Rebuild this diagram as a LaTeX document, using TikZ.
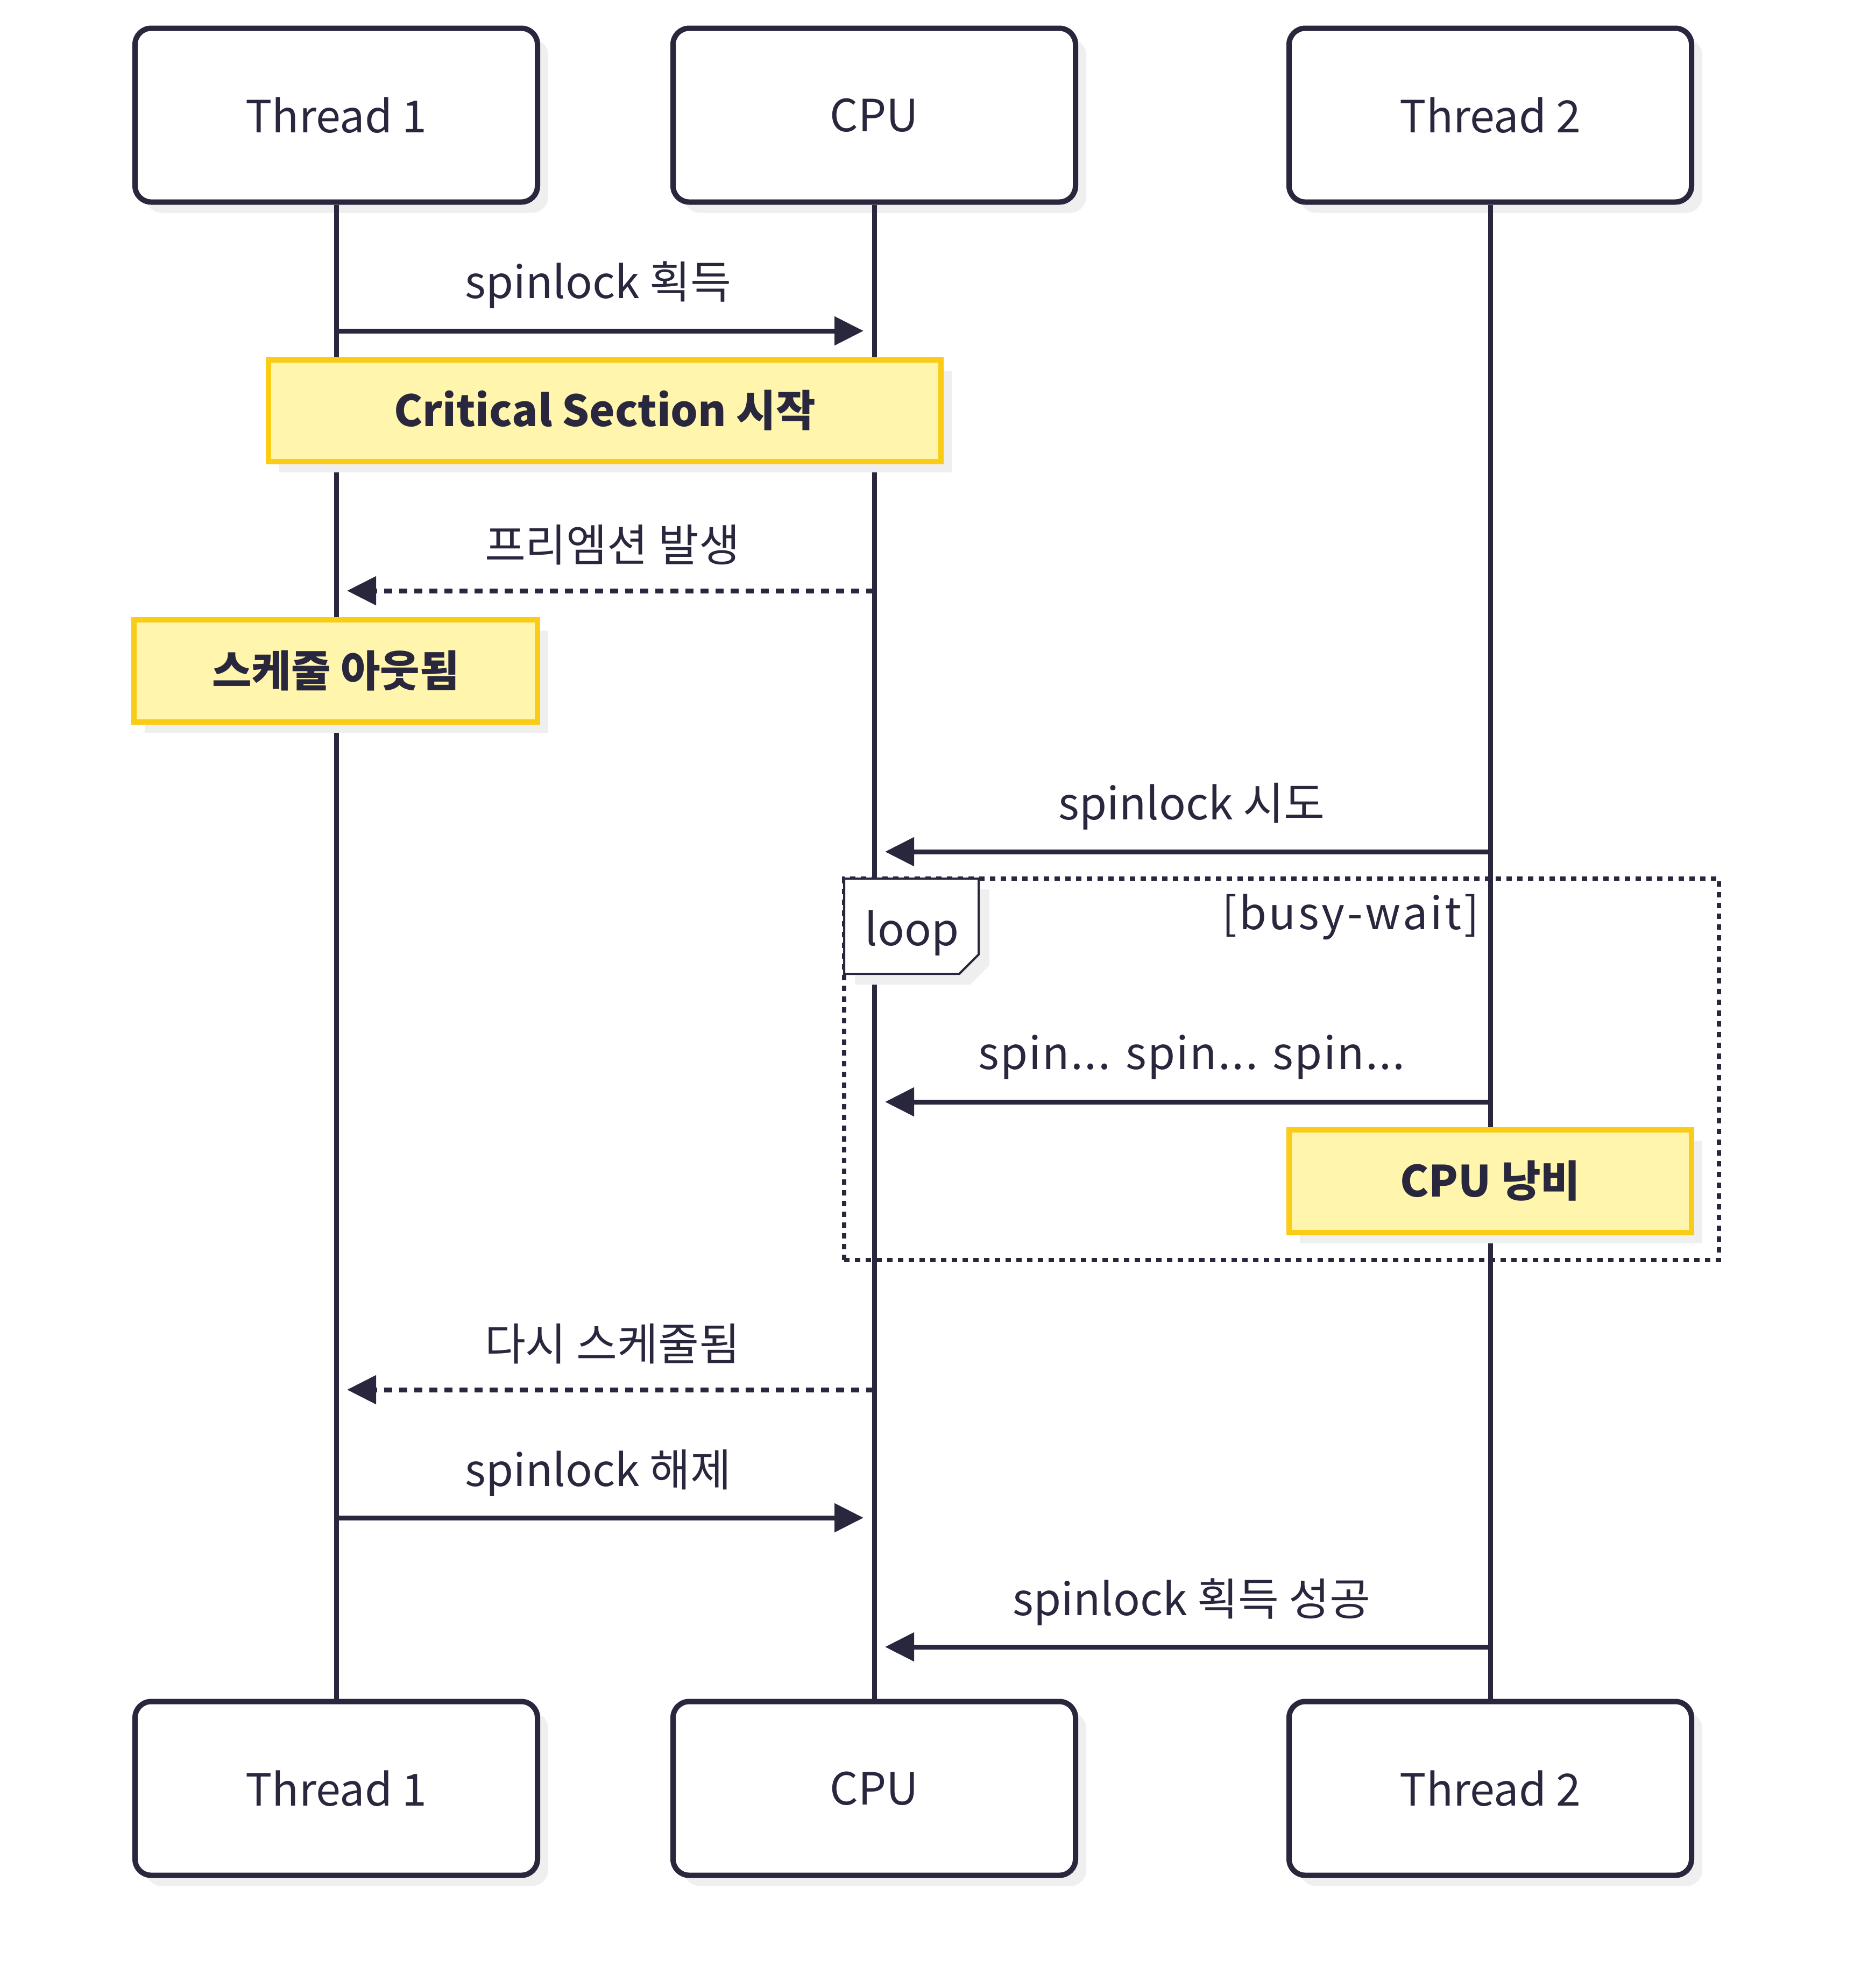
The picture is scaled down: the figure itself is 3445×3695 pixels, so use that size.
\documentclass[tikz,border=0pt]{standalone}
\usepackage{fontspec}
\setmainfont{Noto Sans CJK KR}
\usetikzlibrary{arrows.meta,shadows}
\definecolor{ink}{HTML}{28273D}
\definecolor{notefill}{HTML}{FFF5AD}
\definecolor{notedraw}{HTML}{FACC15}
\definecolor{shadowc}{HTML}{EFEFEF}
\begin{document}
\begin{tikzpicture}[x=0.2pt,y=-0.2pt,
  font=\fontsize{16.5}{19}\selectfont, text=ink,
  sh/.style={drop shadow={shadow xshift=4pt,shadow yshift=-4pt,fill=shadowc,opacity=1}},
  actor/.style={draw=ink,line width=2pt,fill=white,rounded corners=6pt,minimum width=149.6pt,minimum height=64.6pt,inner sep=0pt,sh},
  note/.style={draw=notedraw,fill=notefill,line width=2pt,inner sep=0pt,font=\fontsize{16}{19}\selectfont\bfseries,sh},
  life/.style={draw=ink,line width=1.8pt},
  msg/.style={inner sep=0pt},
  arr/.style={draw=ink,line width=1.8pt,-{Triangle[length=10.8pt,width=10.4pt]},shorten >=4pt},
  darr/.style={arr,dash pattern=on 3pt off 2.6pt},
]
\useasboundingbox[fill=white] (0,0) rectangle (3445,3695);

% loop frame
\node[draw=ink,line width=1.5pt,dash pattern=on 2pt off 2pt,minimum width=325.2pt,minimum height=141.8pt,inner sep=0pt] (loop) at (2382,1987.5) {};

% actors
\node[actor] (h1) at (625,214) {Thread 1};
\node[actor] (h2) at (1625,214) {CPU};
\node[actor] (h3) at (2770,214) {Thread 2};
\node[actor] (f1) at (625,3324) {Thread 1};
\node[actor] (f2) at (1625,3324) {CPU};
\node[actor] (f3) at (2770,3324) {Thread 2};

% lifelines
\draw[life] (h1.south) -- (f1.north);
\draw[life] (h2.south) -- (f2.north);
\draw[life] (h3.south) -- (f3.north);

% notes
\node[note,minimum width=249.8pt,minimum height=37.8pt] (n1) at (1124,763) {Critical Section 시작};
\node[note,minimum width=149.8pt,minimum height=38pt] (n2) at (624,1247) {스케줄 아웃됨};
\node[note,minimum width=149.6pt,minimum height=38.2pt] (n3) at (2770,2195) {CPU 낭비};

% loop label
\path[draw=ink,line width=0.8pt,fill=white,sh] (1569,1633) -- (1819,1633) -- (1819,1774) -- (1783,1810) -- (1569,1810) -- cycle;
\node[msg] (looplbl) at (1695,1734) {loop};
\node[msg,anchor=east] (cond) at (2750,1704) {\addfontfeature{LetterSpace=5.5}[busy-wait]};

% messages
\node[msg] (l1) at (1112,530) {spinlock 획득};
\draw[arr] (h1.south |- 0,615) -- (h2.south |- 0,615);

\node[msg] (l2) at (1138,1013) {프리엠션 발생};
\draw[darr] (h2.south |- 0,1098) -- (h1.south |- 0,1098);

\node[msg] (l3) at (2215,1499) {spinlock 시도};
\draw[arr] (h3.south |- 0,1583) -- (h2.south |- 0,1583);

\node[msg] (l4) at (2215,1965) {\addfontfeature{LetterSpace=2.9}spin... spin... spin...};
\draw[arr] (h3.south |- 0,2048) -- (h2.south |- 0,2048);

\node[msg] (l5) at (1138,2498) {다시 스케줄됨};
\draw[darr] (h2.south |- 0,2583) -- (h1.south |- 0,2583);

\node[msg] (l6) at (1112,2738) {spinlock 해제};
\draw[arr] (h1.south |- 0,2821) -- (h2.south |- 0,2821);

\node[msg] (l7) at (2215,2978) {spinlock 획득 성공};
\draw[arr] (h3.south |- 0,3061) -- (h2.south |- 0,3061);
\end{tikzpicture}
\end{document}
